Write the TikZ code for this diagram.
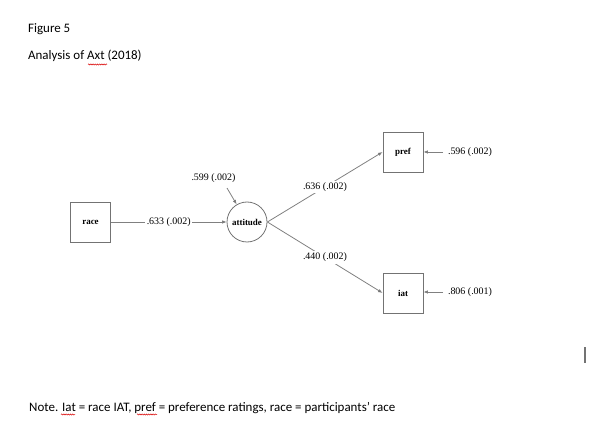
\documentclass[tikz,border=0pt]{standalone}
\usepackage{fontspec}
\setmainfont{Liberation Serif}
\newfontfamily\calfont{Carlito}
\usetikzlibrary{arrows.meta,decorations.pathmorphing}
\begin{document}
\begin{tikzpicture}[x=1bp,y=-1bp,
  doc/.style={font=\calfont\fontsize{13}{15}\selectfont, anchor=base west, inner sep=0pt},
  var/.style={draw=black!55, line width=0.8bp, minimum size=40bp, inner sep=0pt, font=\fontsize{9}{11}\selectfont\bfseries},
  latent/.style={var, circle, minimum size=40bp},
  lbl/.style={font=\fontsize{10}{11}\selectfont, inner sep=1.5bp, fill=white},
  path/.style={draw=black!50, line width=0.8bp, -{Latex[length=4.5bp,width=3.5bp,fill=black]}},
  squig/.style={draw=red!85!black, line width=0.5bp, decorate, decoration={snake, amplitude=0.6bp, segment length=2.2bp}}
]
\useasboundingbox (0,0) rectangle (604,446);
\node[doc] (fig) at (28,33) {Figure 5};
\node[doc] (title) at (28,60) {Analysis of Axt (2018)};
\node[doc] (note) at (29,411) {Note. Iat = race IAT, pref = preference ratings, race = participants’ race};

\node[var] (race) at (90.5,222) {race};
\node[latent] (att) at (247,222) {attitude};
\node[var] (pref) at (403,152) {pref};
\node[var] (iat) at (403,293) {iat};

\node[lbl] (e0) at (213.5,178) {.599 (.002)};
\coordinate (e0s) at (227,188);
\node[lbl] (e1) at (470,152) {.596 (.002)};
\node[lbl] (e2) at (470,292) {.806 (.001)};
\coordinate (e1s) at (443,152);
\coordinate (e2s) at (443,292);

\draw[path] (race) -- node[lbl] {.633 (.002)} (att);
\draw[path] (att.east) -- node[lbl] {.636 (.002)} (pref.west);
\draw[path] (att.east) -- node[lbl] {.440 (.002)} (iat.west);
\draw[path] (e0s) -- (att);
\draw[path] (e1s) -- (pref.east|-e1s);
\draw[path] (e2s) -- (iat.east|-e2s);

\coordinate (c1) at (585,347);
\coordinate (c2) at (585,363);
\draw[black!55, line width=1.2bp] (c1) -- (c2);

\draw[squig] (88,64.5) -- (107,64.5);
\draw[squig] (61,414.5) -- (75,414.5);
\draw[squig] (137,414.5) -- (157,414.5);
\end{tikzpicture}
\end{document}
